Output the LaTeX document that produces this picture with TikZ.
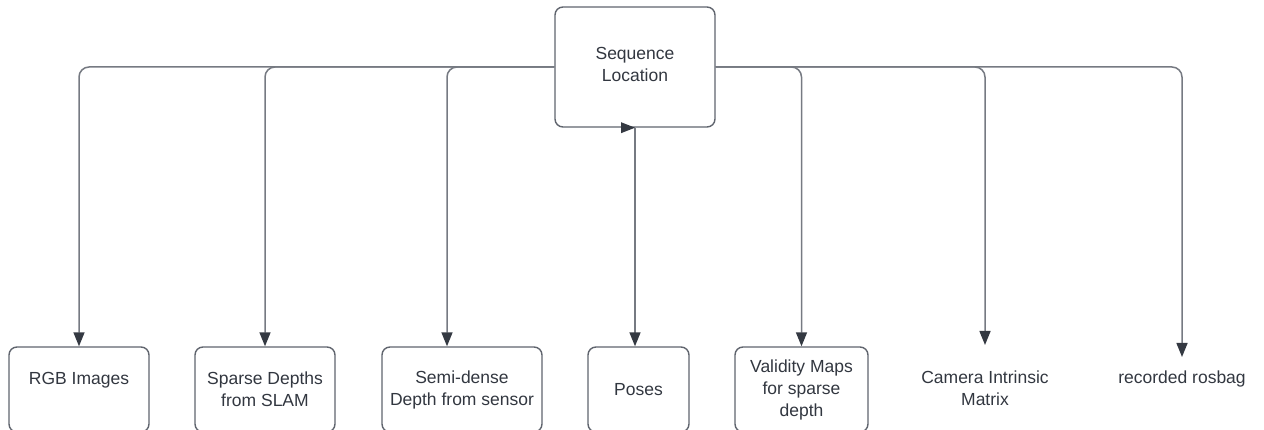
\documentclass[tikz,border=0pt]{standalone}
\usepackage{fontspec}
\setmainfont{Liberation Sans}
\usetikzlibrary{arrows.meta}
\definecolor{wire}{RGB}{118,122,130}
\definecolor{frame}{RGB}{96,101,110}
\definecolor{ink}{RGB}{50,55,64}
\definecolor{tipc}{RGB}{52,57,66}
\begin{document}
\begin{tikzpicture}[x=1pt,y=-1pt,
  txt/.style={align=center, text=ink, font=\fontsize{17.5}{22}\selectfont, inner sep=0pt},
  box/.style={txt, draw=frame, line width=1.4pt, rounded corners=8pt, fill=white, minimum height=85pt},
  link/.style={draw=wire, line width=1.5pt, rounded corners=10pt,
    -{Triangle[length=14pt,width=11pt,color=tipc]}}]
\useasboundingbox (0,0) rectangle (1264,430);

% source
\node[box, minimum width=160pt, minimum height=120pt] (seq) at (635,67) {};
\node[txt] (seqtext) at (635,64) {Sequence\\Location};

% outputs
\node[box, minimum width=140pt] (rgb)    at (79,389.5)    {RGB Images\\~};
\node[box, minimum width=140pt] (sparse) at (265,389.5)   {Sparse Depths\\from SLAM};
\node[box, minimum width=160pt] (semi)   at (462,389.5)   {Semi-dense\\Depth from sensor};
\node[box, minimum width=101pt] (poses)  at (638.5,389.5) {Poses};
\node[box, minimum width=133pt] (valid)  at (801.5,389.5) {Validity Maps\\for sparse\\depth};
\node[txt] (cam) at (985,388)  {Camera Intrinsic\\Matrix};
\node[txt] (bag) at (1182,388) {recorded rosbag\\~};
\coordinate (camin) at (985,345);
\coordinate (bagin) at (1182,357);

% connectors
\draw[link] (seq.west) -| (rgb.north);
\draw[link] (seq.west) -| (sparse.north);
\draw[link] (seq.west) -| ([xshift=-15pt]semi.north);
\draw[link] (seq.south) -- (seq.south |- poses.north);
\draw[link] (seq.east) -| (valid.north);
\draw[link] (seq.east) -| (camin);
\draw[link] (seq.east) -| (bagin);
\fill[tipc] (seq.south) -- ++(-14,-5.5) -- ++(0,11) -- cycle;
\end{tikzpicture}
\end{document}
